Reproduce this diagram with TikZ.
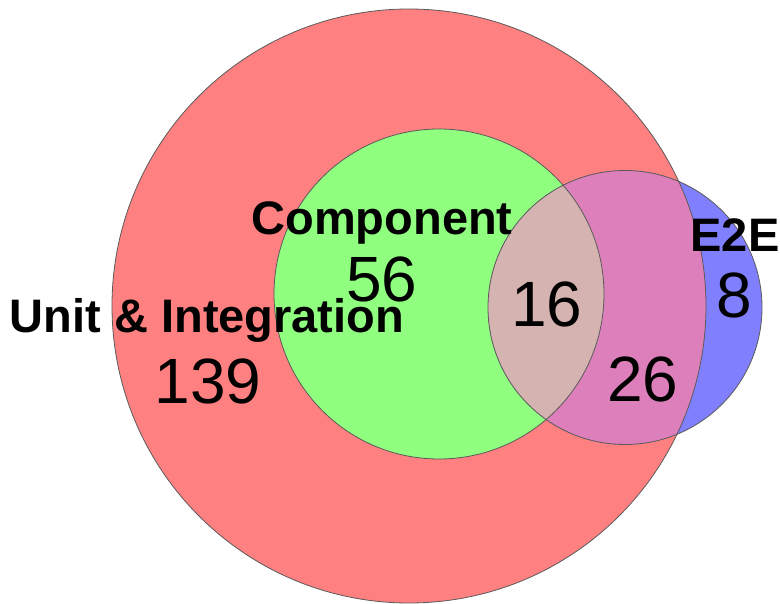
\documentclass[tikz,border=0pt]{standalone}
\usepackage{fontspec}
\setmainfont{Liberation Sans}
\definecolor{redset}{HTML}{FF8080}
\definecolor{greenset}{HTML}{90FF80}
\definecolor{blueset}{HTML}{8080FF}
\definecolor{pinkset}{HTML}{DD7FBA}
\definecolor{tanset}{HTML}{D4B3B0}
\definecolor{rim}{HTML}{5A5A5A}
\begin{document}
\begin{tikzpicture}[x=1pt,y=-1pt,
  rimline/.style={draw=rim,line width=0.8pt},
  setlabel/.style={anchor=base,inner sep=0pt,font=\fontsize{47}{50}\selectfont\bfseries},
  setcount/.style={anchor=base,inner sep=0pt,font=\fontsize{64}{70}\selectfont}]
\useasboundingbox (0,0) rectangle (780,604);
\coordinate (cR) at (409,306);
\coordinate (cG) at (439,294);
\coordinate (cB) at (625,307.5);
% fills
\fill[redset] (cR) circle[radius=297];
\fill[greenset] (cG) circle[radius=165];
\fill[blueset] (cB) circle[radius=137];
\begin{scope}
  \clip (cB) circle[radius=137];
  \fill[pinkset] (cR) circle[radius=297];
  \fill[tanset] (cG) circle[radius=165];
\end{scope}
% outlines
\draw[rimline] (cR) circle[radius=297];
\draw[rimline] (cG) circle[radius=165];
\draw[rimline] (cB) circle[radius=137];
% labels
\node[setlabel] (lu) at (207,333) {Unit \& Integration};
\node[setlabel] (lc) at (382,235) {Component};
\node[setlabel] (le) at (735,252) {E2E};
\node[setcount] (n139) at (208,403) {139};
\node[setcount] (n56) at (382,302) {56};
\node[setcount] (n16) at (547,327) {16};
\node[setcount] (n26) at (643,402) {26};
\node[setcount] (n8) at (734,318) {8};
\end{tikzpicture}
\end{document}
